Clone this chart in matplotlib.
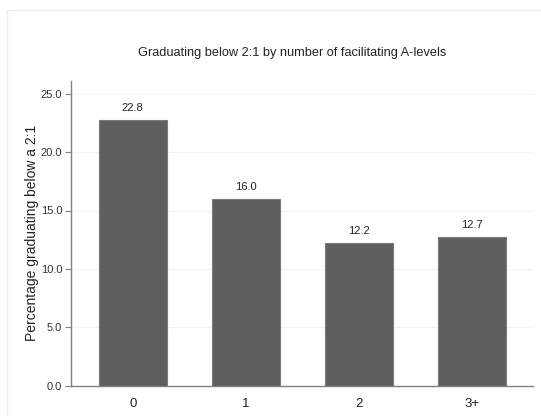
import matplotlib
matplotlib.use("Agg")
import matplotlib.pyplot as plt
from matplotlib.patches import Rectangle

categories = ["0", "1", "2", "3+"]
values = [22.8, 16.0, 12.2, 12.7]
yticks = [0.0, 5.0, 10.0, 15.0, 20.0, 25.0]

plt.rcParams['font.family'] = ['Liberation Sans', 'DejaVu Sans']

W, H = 541, 416
fig = plt.figure(figsize=(W / 100, H / 100), dpi=100)
fig.patch.set_facecolor("white")

# outer faint frame
fig.patches.append(Rectangle((7 / W, -0.1), 1.2, (H - 10) / H + 0.1,
                             transform=fig.transFigure, fill=False,
                             edgecolor="#ececec", linewidth=1.0))

left, right = 70.5, 533
bottom, top = 385.5, 81
ax = fig.add_axes([left / W, 1 - bottom / H, (right - left) / W, (bottom - top) / H])

x = list(range(len(categories)))
bars = ax.bar(x, values, width=0.6, color="#5f5f5f", edgecolor="#7a7a7a",
              linewidth=0.8, zorder=3)

ax.set_xlim(-0.55, 3.54)
ax.set_ylim(0, 26.1)
ax.set_yticks(yticks)
ax.set_yticklabels([f"{v:.1f}" for v in yticks], fontsize=8, color="#333333")
ax.set_xticks(x)
ax.set_xticklabels(categories, fontsize=9.5, color="#222222")

ax.tick_params(axis="x", length=0, pad=9)
ax.tick_params(axis="y", length=4, width=0.8, color="#808080", pad=2)

ax.yaxis.grid(True, color="#f3f3f3", linewidth=0.8, zorder=0)
ax.set_axisbelow(True)

for s in ["top", "right"]:
    ax.spines[s].set_visible(False)
for s in ["left", "bottom"]:
    ax.spines[s].set_color("#808080")
    ax.spines[s].set_linewidth(1.0)

for xi, v in zip(x, values):
    ax.annotate(f"{v:.1f}", (xi, v), xytext=(0, 5), textcoords="offset points",
                ha="center", va="bottom", fontsize=8, color="#222222")

ax.set_ylabel("Percentage graduating below a 2:1", fontsize=10, color="#222222", labelpad=1.5)

fig.text(292 / W, 1 - 53 / H, "Graduating below 2:1 by number of facilitating A-levels",
         ha="center", va="center", fontsize=9.2, color="#222222")

fig.savefig("out.png", dpi=100)
